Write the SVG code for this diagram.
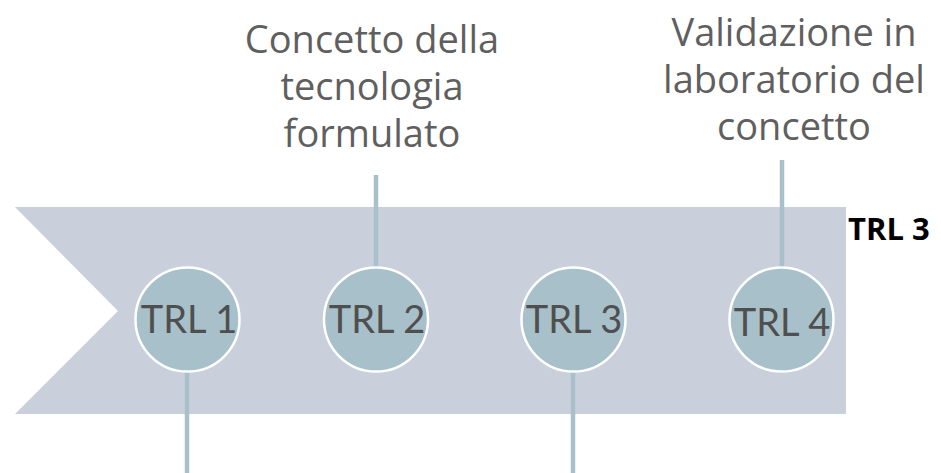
<svg xmlns="http://www.w3.org/2000/svg" width="941" height="473" viewBox="0 0 941 473">
<style>
.conn{stroke:#a8c0c9;stroke-width:4.5;fill:none}
.node circle{fill:#a8c0c9;stroke:#ffffff;stroke-width:2.5}
.node text{font-family:Lato,"Open Sans",sans-serif;font-size:38px;fill:#4f4f4f;text-anchor:middle}
.lbl{font-family:"Open Sans","Liberation Sans",sans-serif;font-size:38px;fill:#5f5f5f;text-anchor:middle}
.tag{font-family:"Open Sans","Liberation Sans",sans-serif;font-size:31px;font-weight:bold;fill:#000000}
</style>
<rect width="941" height="473" fill="#ffffff"/>
<polygon id="banner" points="15,207 846,207 846,414 15,414 118,311" fill="#c9cfdb"/>
<g id="connectors">
<line class="conn" x1="187" y1="371" x2="187" y2="473"/>
<line class="conn" x1="376" y1="175" x2="376" y2="267"/>
<line class="conn" x1="573" y1="371" x2="573" y2="473"/>
<line class="conn" x1="782" y1="160" x2="782" y2="267"/>
</g>
<g id="trl1" class="node"><circle cx="187.5" cy="319.5" r="52"/><text x="189" y="333">TRL 1</text></g>
<g id="trl2" class="node"><circle cx="376" cy="319.5" r="52"/><text x="377" y="333">TRL 2</text></g>
<g id="trl3" class="node"><circle cx="573.5" cy="319.5" r="52"/><text x="574" y="333">TRL 3</text></g>
<g id="trl4" class="node"><circle cx="781.5" cy="319.5" r="52"/><text x="782" y="336">TRL 4</text></g>
<g id="label2"><text class="lbl" x="372" y="53">Concetto della</text><text class="lbl" x="372" y="100">tecnologia</text><text class="lbl" x="372" y="147">formulato</text></g>
<g id="label4"><text class="lbl" x="794" y="46">Validazione in</text><text class="lbl" x="794" y="93">laboratorio del</text><text class="lbl" x="794" y="140">concetto</text></g>
<g id="tag"><text class="tag" x="848" y="240">TRL 3</text></g>
</svg>
